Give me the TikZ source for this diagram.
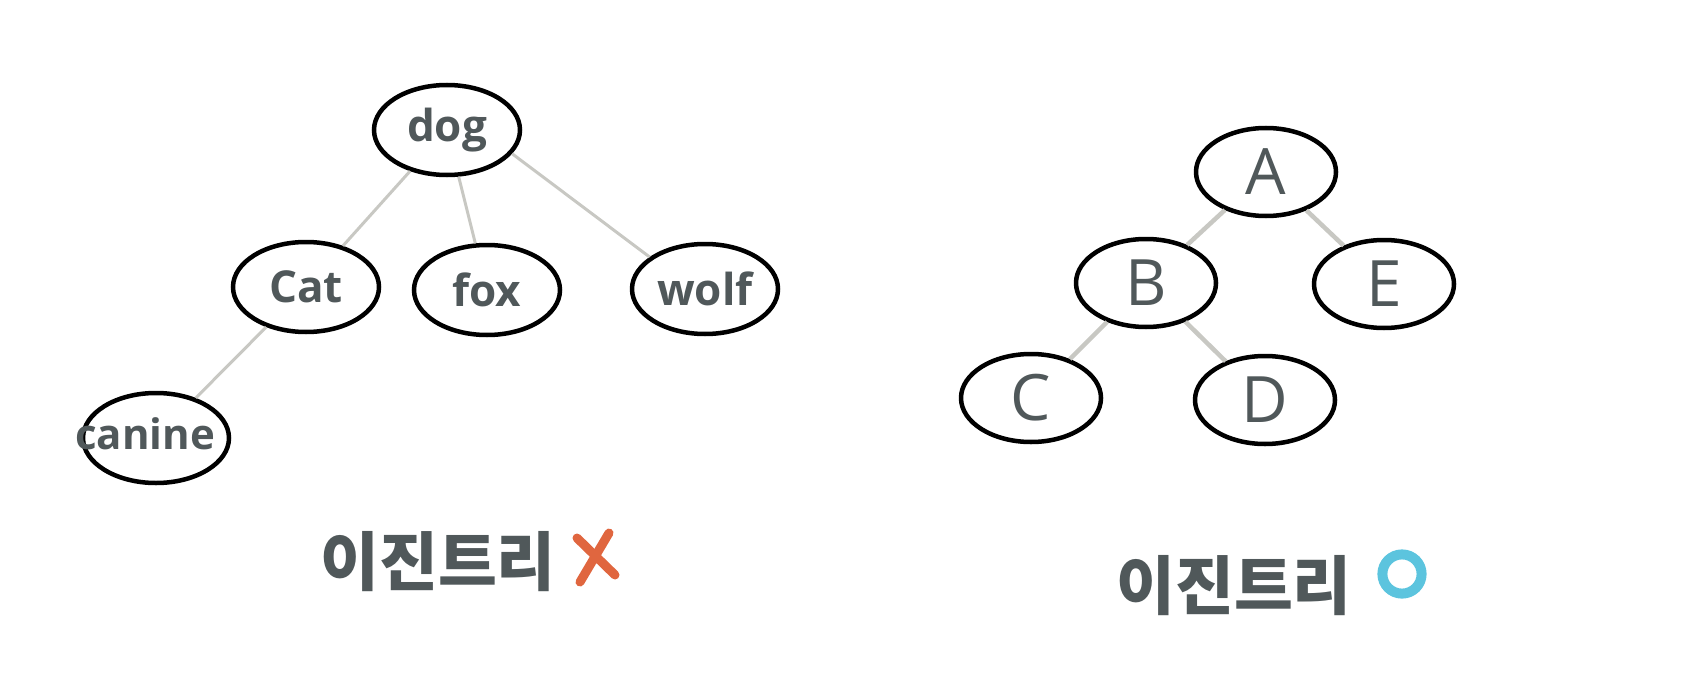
\documentclass[tikz,border=0pt]{standalone}
\usepackage{fontspec}
\setmainfont{Open Sans}
\newfontfamily\kr{Noto Sans CJK KR}
\usetikzlibrary{shapes.geometric}
\definecolor{txt}{HTML}{50585A}
\definecolor{edgegray}{HTML}{C8C8C3}
\definecolor{xred}{HTML}{E0663F}
\definecolor{oblue}{HTML}{5CC4DE}
\begin{document}
\begin{tikzpicture}[x=1pt,y=-1pt,
  treenode/.style={ellipse,draw=black,line width=4.5pt,inner sep=0pt,
    minimum width=146pt,minimum height=90pt,text=txt,
    font=\bfseries\fontsize{44}{50}\selectfont},
  rnode/.style={treenode,minimum width=140pt,minimum height=88pt,
    font=\fontsize{64}{70}\selectfont},
  link/.style={draw=edgegray,line width=3pt},
  rlink/.style={link,line width=4.5pt},
  titletext/.style={text=txt,font=\kr\bfseries\fontsize{64}{70}\selectfont,inner sep=0pt},
  xstroke/.style={draw=xred,line width=9pt,line cap=round},
  ostroke/.style={draw=oblue,line width=10pt}]
\useasboundingbox (0,0) rectangle (1686,690);
% left tree
\node[treenode] (dog) at (447,130) {dog};
\node[treenode] (Cat) at (306,287) {Cat};
\node[treenode] (fox) at (487,290) {fox};
\node[treenode] (wolf) at (705,289) {wolf};
\node[treenode] (canine) at (156,438) {};
\node[text=txt,font=\bfseries\fontsize{42}{50}\selectfont,inner sep=0pt] (canineT) at (145,434) {canine};
\draw[link] (dog) -- (Cat);
\draw[link] (dog) -- (fox);
\draw[link] (dog.-20) -- (wolf.150);
\draw[link] (Cat) -- (canine);
% right tree
\node[rnode] (A) at (1266,172) {A};
\node[rnode] (B) at (1146,283) {B};
\node[rnode] (E) at (1384,284) {E};
\node[rnode] (C) at (1031,398) {C};
\node[rnode] (D) at (1265,400) {D};
\draw[rlink] (A) -- (B);
\draw[rlink] (A) -- (E);
\draw[rlink] (B) -- (C);
\draw[rlink] (B) -- (D);
% titles
\node[titletext] (tleft) at (438,562) {이진트리};
\node[titletext] (tright) at (1234,586) {이진트리};
\draw[xstroke] (609,533) -- (580,582);
\draw[xstroke] (577,538) -- (615,575);
\draw[ostroke] (1402,574) circle (19.6);
\end{tikzpicture}
\end{document}
